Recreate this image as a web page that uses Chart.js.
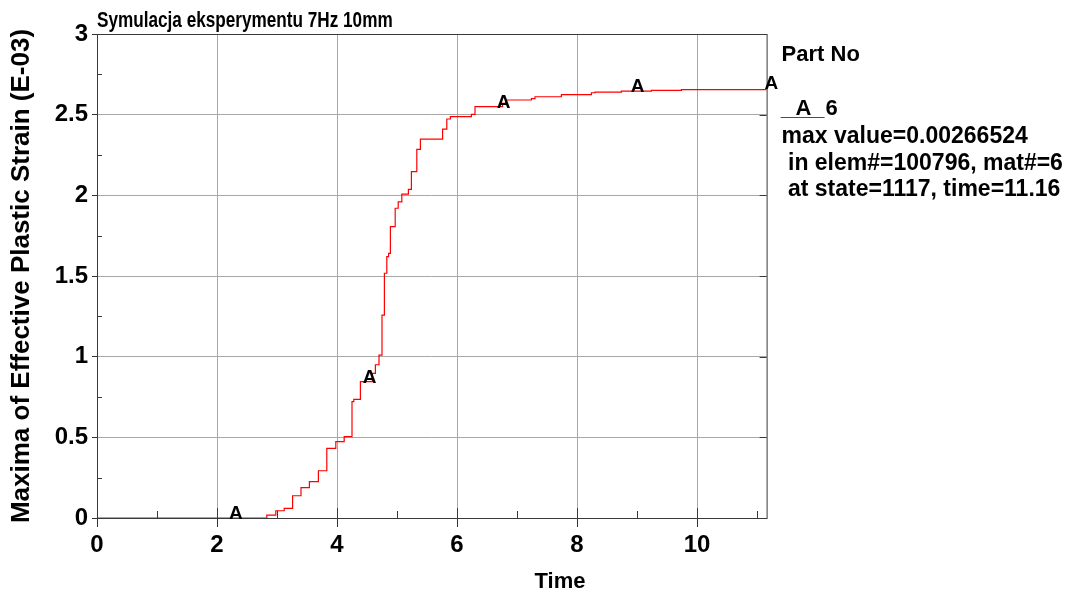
<!DOCTYPE html>
<html>
<head>
<meta charset="utf-8">
<script src="https://cdn.jsdelivr.net/npm/chart.js@4.4.1/dist/chart.umd.min.js"></script>
<style>
  html, body { margin: 0; padding: 0; background: #fff; }
  #wrap { width: 1075px; height: 597px; position: relative; }
</style>
</head>
<body>
<div id="wrap"><canvas id="strain-chart"></canvas></div>
<script>
// time of each step and the value it jumps to (E-03)
const times = [0, 2.83, 2.98, 3.12, 3.26, 3.40, 3.54, 3.69, 3.83, 3.98, 4.12, 4.25, 4.28, 4.39, 4.59, 4.64,
  4.70, 4.75, 4.79, 4.83, 4.86, 4.89, 4.97, 5.02, 5.08, 5.19, 5.24, 5.33, 5.39, 5.76, 5.83, 5.89,
  6.24, 6.30, 6.76, 6.81, 7.24, 7.30, 7.74, 8.24, 8.30, 8.74, 9.24, 9.74, 11.16];
const strain = [0, 0.018, 0.045, 0.06, 0.138, 0.188, 0.225, 0.293, 0.432, 0.473, 0.504, 0.721, 0.735, 0.845, 0.897, 0.95,
  1.01, 1.258, 1.517, 1.62, 1.64, 1.806, 1.92, 1.96, 2.008, 2.037, 2.147, 2.285, 2.349, 2.411, 2.473, 2.488,
  2.502, 2.55, 2.57, 2.591, 2.60, 2.611, 2.624, 2.636, 2.64, 2.646, 2.65, 2.655, 2.665];

const xTicks = [0, 2, 4, 6, 8, 10];
const xTickLabels = ['0', '2', '4', '6', '8', '10'];
const yTicks = [0, 0.5, 1, 1.5, 2, 2.5, 3];
const yTickLabels = ['0', '0.5', '1', '1.5', '2', '2.5', '3'];
const xMinor = [1, 3, 5, 7, 9, 11];
const yMinor = [0.25, 0.75, 1.25, 1.75, 2.25, 2.75];
const markerTimes = [2.232, 4.464, 6.696, 8.928, 11.16];

const chartTitle = 'Symulacja eksperymentu 7Hz 10mm';
const xTitle = 'Time';
const legendTitle = 'Part No';
const partLabel = 'A';
const partNo = '6';
const infoLines = ['max value=0.00266524', ' in elem#=100796, mat#=6', ' at state=1117, time=11.16'];

const FONT = '"Liberation Sans", Arial, sans-serif';

function valueAt(t) {
  let v = strain[0];
  for (let i = 0; i < times.length; i++) {
    if (times[i] <= t + 1e-9) v = strain[i];
  }
  return v;
}

const extras = {
  id: 'extras',
  afterDatasetsDraw(chart) {
    const ctx = chart.ctx;
    const a = chart.chartArea;
    const xs = chart.scales.x, ys = chart.scales.y;
    ctx.save();
    // frame
    ctx.strokeStyle = '#3a3a3a';
    ctx.lineWidth = 1;
    ctx.strokeRect(a.left + 0.5, a.top + 0.5, a.right - a.left, a.bottom - a.top);
    // inner ticks
    ctx.beginPath();
    xTicks.forEach(v => { const px = Math.round(xs.getPixelForValue(v)) + 0.5; ctx.moveTo(px, a.bottom); ctx.lineTo(px, a.bottom - 10); });
    xMinor.forEach(v => { const px = Math.round(xs.getPixelForValue(v)) + 0.5; ctx.moveTo(px, a.bottom); ctx.lineTo(px, a.bottom - 7); });
    yMinor.forEach(v => { const py = Math.round(ys.getPixelForValue(v)) + 0.5; ctx.moveTo(a.left, py); ctx.lineTo(a.left + 5, py); });
    yTicks.forEach(v => { const py = Math.round(ys.getPixelForValue(v)) + 0.5; ctx.moveTo(a.right, py); ctx.lineTo(a.right - 7, py); });
    ctx.stroke();

    // "A" symbols along the curve
    ctx.fillStyle = '#000';
    ctx.font = 'bold 19px ' + FONT;
    ctx.textAlign = 'left';
    ctx.textBaseline = 'alphabetic';
    markerTimes.forEach(t => {
      const px = xs.getPixelForValue(t);
      const py = ys.getPixelForValue(valueAt(t));
      ctx.fillText('A', px - 2, py + 1);
    });

    // title (narrow bold)
    ctx.save();
    ctx.font = 'bold 22px ' + FONT;
    ctx.translate(a.left, 27);
    ctx.scale(0.78, 1);
    ctx.fillText(chartTitle, 0, 0);
    ctx.restore();

    // x axis title
    ctx.font = 'bold 22px ' + FONT;
    ctx.textAlign = 'center';
    ctx.fillText(xTitle, 560, 588);
    ctx.textAlign = 'left';

    // legend block
    const lx = a.right + 15;
    ctx.font = 'bold 22px ' + FONT;
    ctx.fillText(legendTitle, lx, 61);
    ctx.strokeStyle = '#ff0000';
    ctx.beginPath();
    ctx.moveTo(lx - 1, 117.5);
    ctx.lineTo(lx + 43, 117.5);
    ctx.stroke();
    ctx.fillText(partLabel, lx + 14, 115);
    ctx.fillText(partNo, lx + 44, 115);
    ctx.font = 'bold 23px ' + FONT;
    infoLines.forEach((s, i) => ctx.fillText(s, lx, 143 + i * 26.5));
    ctx.restore();
  }
};

const ctx = document.getElementById('strain-chart');
new Chart(ctx, {
  type: 'scatter',
  data: {
    datasets: [{
      label: 'A',
      data: times.map((t, i) => ({ x: t, y: strain[i] })),
      showLine: true,
      stepped: 'before',
      borderColor: '#ff0000',
      borderWidth: 1.2,
      pointRadius: 0,
      fill: false
    }]
  },
  options: {
    responsive: true,
    maintainAspectRatio: false,
    animation: false,
    layout: {
      padding: { left: 0, top: 34, right: 308.4, bottom: 0 }
    },
    scales: {
      x: {
        type: 'linear',
        min: 0,
        max: 11.16,
        afterBuildTicks: function(scale) { scale.ticks = xTicks.map(v => ({ value: v })); },
        afterFit: function(scale) { scale.height = 79; },
        border: { display: false },
        grid: {
          color: '#a8a8a8',
          lineWidth: 1,
          drawTicks: true,
          tickLength: 9,
          tickColor: '#333'
        },
        ticks: {
          autoSkip: false,
          maxRotation: 0,
          padding: 4,
          color: '#000',
          font: { family: FONT, size: 24, weight: 'bold' },
          callback: function(value, index) { return xTickLabels[index]; }
        },
        title: { display: false }
      },
      y: {
        type: 'linear',
        min: 0,
        max: 3,
        afterBuildTicks: function(scale) { scale.ticks = yTicks.map(v => ({ value: v })); },
        afterFit: function(scale) { scale.width = 97; },
        border: { display: false },
        grid: {
          color: '#a8a8a8',
          lineWidth: 1,
          drawTicks: true,
          tickLength: 5,
          tickColor: '#333'
        },
        ticks: {
          padding: 4,
          color: '#000',
          font: { family: FONT, size: 24, weight: 'bold' },
          callback: function(value, index) { return yTickLabels[index]; }
        },
        title: {
          display: true,
          text: 'Maxima of Effective Plastic Strain (E-03)',
          color: '#000',
          font: { family: FONT, size: 26, weight: 'bold' },
          padding: { top: 6, bottom: 0 }
        }
      }
    },
    plugins: {
      legend: { display: false },
      tooltip: { enabled: false }
    }
  },
  plugins: [extras]
});
</script>
</body>
</html>
